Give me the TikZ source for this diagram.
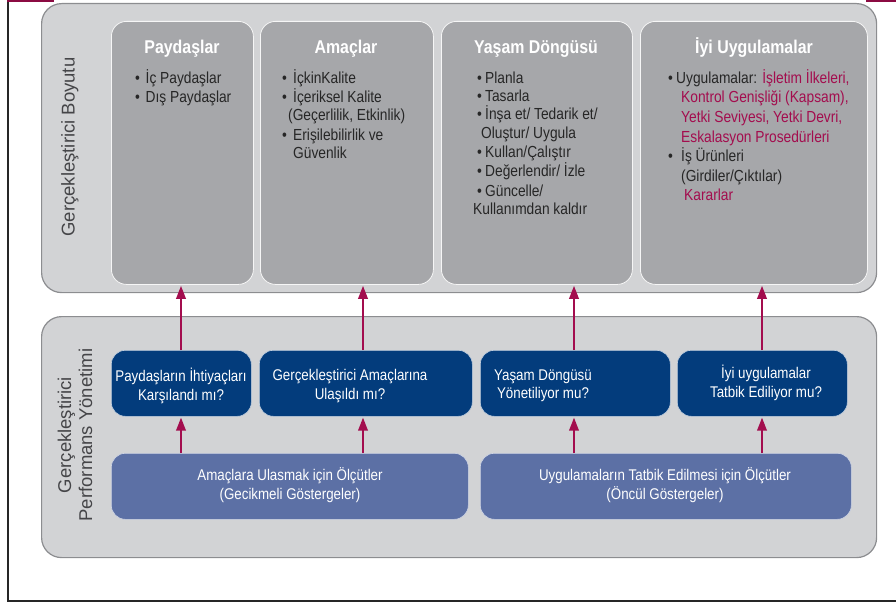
\documentclass[tikz,border=0pt]{standalone}
\usepackage{fontspec}
\setmainfont{Liberation Sans}[FakeStretch=0.86]
\newfontfamily\sidefont{Liberation Sans}
\usetikzlibrary{arrows.meta}

\definecolor{panelgray}{HTML}{D2D3D5}
\definecolor{paneledge}{HTML}{8C8D90}
\definecolor{colgray}{HTML}{A6A7AA}
\definecolor{navy}{HTML}{033C7C}
\definecolor{midblue}{HTML}{5C70A5}
\definecolor{accent}{HTML}{A30D4E}
\definecolor{bodytext}{HTML}{262626}
\definecolor{sidetext}{HTML}{454548}

% bullet with fixed width, plus a strut fixing the first line's top
\newcommand\bul[1][10.5pt]{\rule{0pt}{15pt}\makebox[#1][l]{•}}
\newcommand\hl[1]{\textcolor{accent}{#1}}

\begin{document}
\begin{tikzpicture}[x=1pt,y=-1pt,
  panel/.style={draw=paneledge, line width=1.2pt, fill=panelgray,
    rounded corners=20pt, inner sep=0pt, anchor=north west},
  colbox/.style={draw=white!90!colgray, line width=0.8pt, fill=colgray,
    rounded corners=15pt, inner sep=0pt, anchor=north west},
  qbox/.style={draw=white!75!navy, line width=0.6pt, fill=navy,
    rounded corners=14pt, inner sep=0pt, anchor=north west,
    minimum height=66pt},
  mbox/.style={draw=white!70!midblue, line width=0.6pt, fill=midblue,
    rounded corners=14pt, inner sep=0pt, anchor=north west,
    minimum height=66pt},
  coltitle/.style={anchor=base, inner sep=0pt, text=white,
    font=\fontsize{18.5}{21}\selectfont\bfseries},
  listtext/.style={anchor=north west, inner sep=0pt, align=left,
    text=bodytext, font=\fontsize{16}{18.3}\selectfont},
  boxtext/.style={inner sep=0pt, align=center, text=white,
    font=\fontsize{15.5}{18.5}\selectfont},
  sidelabel/.style={rotate=90, inner sep=0pt, align=center, text=sidetext,
    font=\sidefont\fontsize{18.5}{21}\selectfont},
  arr/.style={draw=accent, line width=2pt,
    -{Triangle[length=13pt,width=9.5pt]}, shorten >=1pt}
]
\useasboundingbox (0,0) rectangle (896,602);

% page frame
\draw[line width=2pt, draw=black!85] (8,2) -- (8,600.5) -- (896,600.5);
\draw[line width=2.5pt, draw=accent!85!black] (7,1.2) -- (54,1.2);
\draw[line width=2.5pt, draw=accent!85!black] (866,1.2) -- (896,1.2);

% two background panels
\node[panel, minimum width=835pt, minimum height=289pt] (top) at (41,3) {};
\node[panel, minimum width=835pt, minimum height=241pt] (bottom) at (41,316) {};

\node[sidelabel] (toplabel) at (70,147) {Gerçekleştirici Boyutu};
\node[sidelabel] (botlabel) at (75,435) {Gerçekleştirici\\Performans Yönetimi};

% upper columns
\node[colbox, minimum width=142pt, minimum height=263pt] (c1) at (111,21) {};
\node[colbox, minimum width=173pt, minimum height=263pt] (c2) at (260,21) {};
\node[colbox, minimum width=191pt, minimum height=263pt] (c3) at (441,21) {};
\node[colbox, minimum width=227pt, minimum height=263pt] (c4) at (640,21) {};

\node[coltitle] (t1) at (182,53) {Paydaşlar};
\node[coltitle] (t2) at (346,53) {Amaçlar};
\node[coltitle] (t3) at (536,53) {Yaşam Döngüsü};
\node[coltitle] (t4) at (754,53) {İyi Uygulamalar};

\node[listtext] (l1) at (135,68) {%
  \bul İç Paydaşlar\\
  \bul Dış Paydaşlar};
\node[listtext] (l2) at (282,68) {%
  \bul[11pt]İçkinKalite\\
  \bul[11pt]İçeriksel Kalite\\
  \hspace*{6pt}(Geçerlilik, Etkinlik)\\
  \bul[11pt]Erişilebilirlik ve\\
  \hspace*{11pt}Güvenlik};
\node[listtext] (l3) at (473,68) {%
  \hspace*{4pt}\bul[8pt]Planla\\
  \hspace*{4pt}\bul[8pt]Tasarla\\
  \hspace*{4pt}\bul[8pt]İnşa et/ Tedarik et/\\
  \hspace*{8pt}Oluştur/ Uygula\\
  \hspace*{4pt}\bul[8pt]Kullan/Çalıştır\\
  \hspace*{4pt}\bul[8pt]Değerlendir/ İzle\\
  \hspace*{4pt}\bul[8pt]Güncelle/\\
  Kullanımdan kaldır};
\node[listtext, font=\fontsize{16}{19.6}\selectfont] (l4) at (668,68) {%
  \bul[8pt]Uygulamalar: \hl{İşletim İlkeleri,}\\
  \hspace*{13pt}\hl{Kontrol Genişliği (Kapsam),}\\
  \hspace*{13pt}\hl{Yetki Seviyesi, Yetki Devri,}\\
  \hspace*{13pt}\hl{Eskalasyon Prosedürleri}\\
  \makebox[13pt][l]{•}İş Ürünleri\\
  \hspace*{13pt}(Girdiler/Çıktılar)\\
  \hspace*{16pt}\hl{Kararlar}};

% question boxes
\node[qbox, minimum width=140pt] (b1) at (111,350) {};
\node[qbox, minimum width=213pt] (b2) at (259,350) {};
\node[qbox, minimum width=190pt] (b3) at (480,350) {};
\node[qbox, minimum width=170pt] (b4) at (677,350) {};

\node[boxtext] (q1) at (181,386) {Paydaşların İhtiyaçları\\Karşılandı mı?};
\node[boxtext] (q2) at (350,386) {Gerçekleştirici Amaçlarına\\Ulaşıldı mı?};
\node[boxtext] (q3) at (543,386) {Yaşam Döngüsü\\Yönetiliyor mu?};
\node[boxtext] (q4) at (766,383) {İyi uygulamalar\\Tatbik Ediliyor mu?};

% measure boxes
\node[mbox, minimum width=357pt] (m1) at (111,453) {};
\node[mbox, minimum width=371pt] (m2) at (480,453) {};

\node[boxtext] (mt1) at (290,485) {Amaçlara Ulasmak için Ölçütler\\(Gecikmeli Göstergeler)};
\node[boxtext] (mt2) at (665,485) {Uygulamaların Tatbik Edilmesi için Ölçütler\\(Öncül Göstergeler)};

% arrow columns
\coordinate (x1) at (181,0);
\coordinate (x2) at (363,0);
\coordinate (x3) at (574,0);
\coordinate (x4) at (762,0);

\draw[arr] (m1.north -| x1) -- (b1.south -| x1);
\draw[arr] (m1.north -| x2) -- (b2.south -| x2);
\draw[arr] (m2.north -| x3) -- (b3.south -| x3);
\draw[arr] (m2.north -| x4) -- (b4.south -| x4);

\draw[arr] (b1.north -| x1) -- (c1.south -| x1);
\draw[arr] (b2.north -| x2) -- (c2.south -| x2);
\draw[arr] (b3.north -| x3) -- (c3.south -| x3);
\draw[arr] (b4.north -| x4) -- (c4.south -| x4);
\end{tikzpicture}
\end{document}
